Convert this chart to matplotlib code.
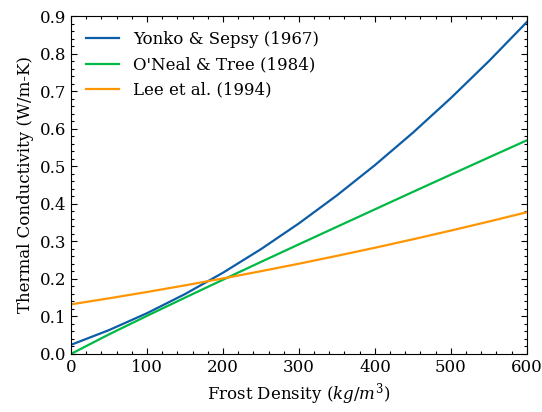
import numpy as np
import matplotlib.pyplot as plt
from matplotlib.ticker import AutoMinorLocator

# frost density (kg/m^3)
density = [0, 50, 100, 150, 200, 250, 300, 350, 400, 450, 500, 550, 600]

# thermal conductivity (W/m-K)
k_yonko = [0.0242, 0.0634, 0.1084, 0.1593, 0.2162, 0.2790, 0.3477,
           0.4223, 0.5028, 0.5892, 0.6816, 0.7798, 0.8840]
k_oneal = [0.0, 0.0520, 0.1014, 0.1498, 0.1976, 0.2450, 0.2920,
           0.3386, 0.3851, 0.4315, 0.4776, 0.5234, 0.5690]
k_lee = [0.1320, 0.1481, 0.1649, 0.1826, 0.2010, 0.2203, 0.2403,
         0.2612, 0.2828, 0.3053, 0.3285, 0.3526, 0.3774]

labels = ['Yonko & Sepsy (1967)', "O'Neal & Tree (1984)", 'Lee et al. (1994)']
colors = ['#0C5DA5', '#00B945', '#FF9500']

plt.rcParams['font.family'] = 'DejaVu Serif'
plt.rcParams['mathtext.fontset'] = 'dejavuserif'
plt.rcParams['font.size'] = 12

fig, ax = plt.subplots(figsize=(5.42, 4.12), dpi=100)
fig.subplots_adjust(left=0.131, right=0.972, top=0.961, bottom=0.141)

for k, lab, c in zip([k_yonko, k_oneal, k_lee], labels, colors):
    ax.plot(density, k, color=c, lw=1.6, label=lab)

ax.set_xlim(0, 600)
ax.set_ylim(0, 0.9)
ax.set_xticks(np.arange(0, 601, 100))
ax.set_yticks(np.arange(0, 0.91, 0.1))
ax.xaxis.set_minor_locator(AutoMinorLocator(5))
ax.yaxis.set_minor_locator(AutoMinorLocator(5))
ax.tick_params(which='both', direction='in', top=True, right=True)
ax.tick_params(which='major', length=4, width=0.8)
ax.tick_params(which='minor', length=2, width=0.8)

ax.set_xlabel('Frost Density ($kg/m^3$)')
ax.set_ylabel('Thermal Conductivity (W/m-K)')
ax.legend(loc='upper left', frameon=False)

fig.savefig('out.png', dpi=100)
